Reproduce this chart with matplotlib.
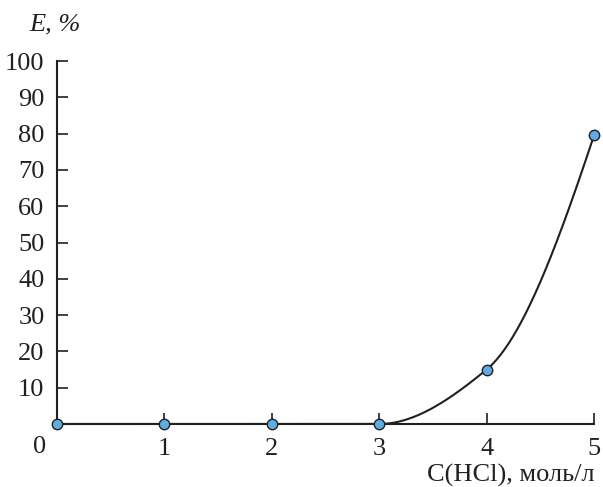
import numpy as np
import matplotlib.pyplot as plt

# данные
c_hcl = np.array([0, 1, 2, 3, 4, 5], dtype=float)
e_pct = np.array([0, 0, 0, 0, 15, 79.5])
x_ticks = [1, 2, 3, 4, 5]
y_ticks = [10, 20, 30, 40, 50, 60, 70, 80, 90, 100]


def pchip(x, y, xn):
    # монотонная кубическая интерполяция (Fritsch-Carlson)
    h = np.diff(x)
    d = np.diff(y) / h
    n = len(x)
    m = np.zeros(n)
    for k in range(1, n - 1):
        if d[k - 1] * d[k] > 0:
            w1 = 2 * h[k] + h[k - 1]
            w2 = h[k] + 2 * h[k - 1]
            m[k] = (w1 + w2) / (w1 / d[k - 1] + w2 / d[k])
    m[0] = ((2 * h[0] + h[1]) * d[0] - h[0] * d[1]) / (h[0] + h[1])
    m[-1] = ((2 * h[-1] + h[-2]) * d[-1] - h[-1] * d[-2]) / (h[-1] + h[-2])
    if m[0] * d[0] <= 0:
        m[0] = 0
    if m[-1] * d[-1] <= 0:
        m[-1] = 0
    i = np.clip(np.searchsorted(x, xn) - 1, 0, n - 2)
    t = (xn - x[i]) / h[i]
    h00 = 2 * t**3 - 3 * t**2 + 1
    h10 = t**3 - 2 * t**2 + t
    h01 = -2 * t**3 + 3 * t**2
    h11 = t**3 - t**2
    return h00 * y[i] + h10 * h[i] * m[i] + h01 * y[i + 1] + h11 * h[i] * m[i + 1]


plt.rcParams['font.family'] = ['Liberation Serif', 'DejaVu Serif']
fs = 19
col = '#231f20'

fig = plt.figure(figsize=(6.03, 4.87), dpi=100)
ax = fig.add_axes([57 / 603, 1 - 424 / 487, (594 - 57) / 603, (424 - 61) / 487])

xs = np.linspace(0, 5, 400)
ax.plot(xs, pchip(c_hcl, e_pct, xs), color=col, lw=1.5, clip_on=False, zorder=2)
ax.plot(c_hcl, e_pct, 'o', ms=7.5, mfc='#5aafe0', mec=col, mew=1.0, clip_on=False, zorder=3)

ax.set_xlim(0, 5)
ax.set_ylim(0, 100)
ax.set_xticks(x_ticks)
ax.set_yticks(y_ticks)
ax.tick_params(axis='x', direction='in', length=8, width=1.2, color=col, labelsize=fs, pad=10, labelcolor=col)
ax.tick_params(axis='y', direction='in', length=8, width=1.2, color=col, labelsize=fs, pad=9, labelcolor=col)
for s in ['top', 'right']:
    ax.spines[s].set_visible(False)
for s in ['left', 'bottom']:
    ax.spines[s].set_linewidth(1.5)
    ax.spines[s].set_color(col)

# подпись нуля в углу
ax.annotate('0', xy=(0, 0), xytext=(-12.2, -16.6), textcoords='offset points',
            fontsize=fs, color=col, ha='center', va='center', annotation_clip=False)
fig.text(595 / 603, 1 - 475 / 487, 'C(HCl), моль/л', fontsize=fs, color=col, ha='right', va='center')
fig.text(55 / 603, 1 - 24 / 487, 'E, %', fontsize=fs, color=col, ha='center', va='center', style='italic')

fig.savefig('out.png', dpi=100)
